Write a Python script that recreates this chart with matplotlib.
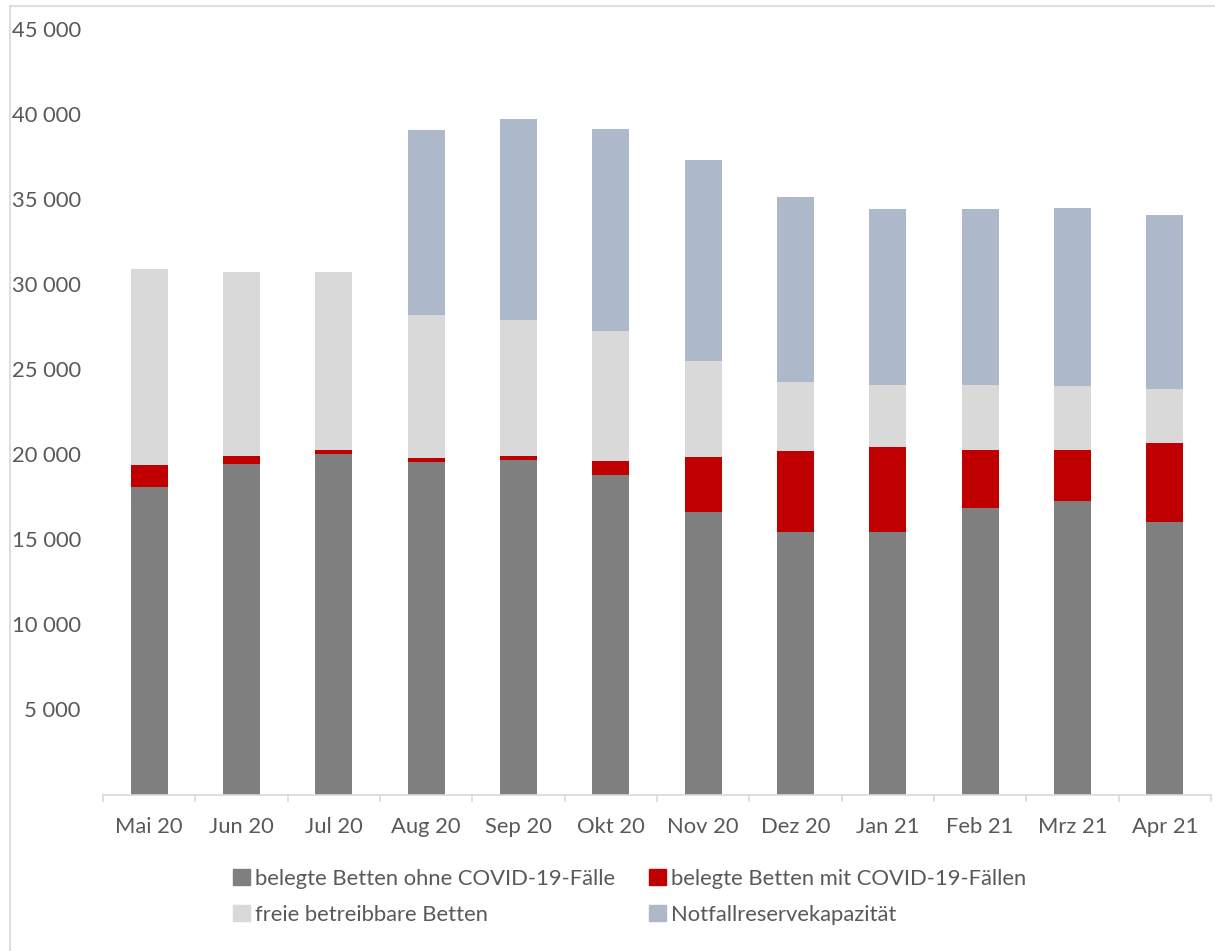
import numpy as np
import matplotlib.pyplot as plt
from matplotlib.patches import Patch
from matplotlib.lines import Line2D

# monthly bed counts
months = ['Mai 20', 'Jun 20', 'Jul 20', 'Aug 20', 'Sep 20', 'Okt 20',
          'Nov 20', 'Dez 20', 'Jan 21', 'Feb 21', 'Mrz 21', 'Apr 21']
belegt_ohne = [18060, 19460, 20010, 19540, 19650, 18770, 16590, 15460, 15420, 16830, 17280, 16000]
belegt_mit = [1320, 430, 230, 230, 240, 870, 3280, 4760, 5020, 3450, 2980, 4670]
frei = [11510, 10830, 10470, 8410, 8000, 7610, 5610, 4020, 3630, 3780, 3750, 3160]
notfall = [0, 0, 0, 10890, 11830, 11890, 11830, 10890, 10360, 10360, 10470, 10240]

labels = ['belegte Betten ohne COVID-19-Fälle', 'belegte Betten mit COVID-19-Fällen',
          'freie betreibbare Betten', 'Notfallreservekapazität']
colors = ['#7f7f7f', '#c00000', '#d9d9d9', '#adb9ca']

plt.rcParams['font.family'] = ['Lato', 'DejaVu Sans']
txt = '#595959'

fig = plt.figure(figsize=(12.15, 9.51), dpi=100)
ax = fig.add_axes([103 / 1215, 1 - 794.5 / 951, (1211 - 103) / 1215, (794.5 - 29.3) / 951])

x = np.arange(len(months))
bottom = np.zeros(len(months))
for vals, col in zip([belegt_ohne, belegt_mit, frei, notfall], colors):
    ax.bar(x, vals, width=0.4, bottom=bottom, color=col, zorder=2)
    bottom += np.array(vals)

ax.set_xlim(-0.5, len(months) - 0.5)
ax.set_ylim(0, 45000)
ax.set_yticks(np.arange(5000, 45001, 5000))
ax.set_yticklabels([f'{v:,}'.replace(',', ' ') for v in range(5000, 45001, 5000)])
ax.set_xticks(x)
ax.set_xticklabels(months)
ax.tick_params(axis='both', length=0, labelsize=15.8, colors=txt)
ax.tick_params(axis='x', pad=16)
ax.tick_params(axis='y', pad=16)

for s in ['top', 'right', 'left']:
    ax.spines[s].set_visible(False)
ax.spines['bottom'].set_color('#d9d9d9')
ax.spines['bottom'].set_linewidth(1.2)

# category boundary ticks
for b in np.arange(-0.5, len(months), 1.0):
    ax.add_line(Line2D([b, b], [0, -380], color='#d9d9d9', lw=1.2, clip_on=False))

handles = [Patch(color=colors[0]), Patch(color=colors[2]),
           Patch(color=colors[1]), Patch(color=colors[3])]
hl = [labels[0], labels[2], labels[1], labels[3]]
fig.legend(handles, hl, ncol=2, loc='center', bbox_to_anchor=(630 / 1215, 1 - 897 / 951),
           frameon=False, fontsize=15.8, labelcolor=txt, handlelength=0.75, handleheight=0.75,
           handletextpad=0.25, columnspacing=1.55, labelspacing=0.72)

# chart border
fig.add_artist(Line2D([10 / 1215, 10 / 1215], [0, 1 - 6 / 951], color='#d9d9d9', lw=1.2))
fig.add_artist(Line2D([10 / 1215, 1], [1 - 6 / 951, 1 - 6 / 951], color='#d9d9d9', lw=1.2))

fig.savefig('out.png', dpi=100)
